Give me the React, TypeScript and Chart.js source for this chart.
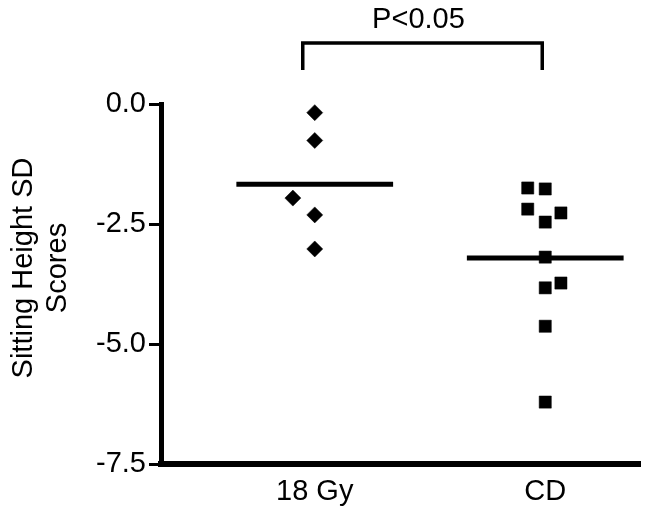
import React, { useEffect, useRef } from 'react';
import { Chart, registerables } from 'chart.js';

Chart.register(...registerables);

// ---- data ----
const categories = ['18 Gy', 'CD'];
const gyValues = [-0.18, -0.76, -1.96, -2.31, -3.02];
const gySpread = [0, 0, -0.095, 0, 0];
const cdValues = [-1.75, -1.77, -2.19, -2.27, -2.46, -3.19, -3.83, -3.73, -4.63, -6.21];
const cdSpread = [-0.076, 0, -0.076, 0.068, 0, 0, 0, 0.068, 0, 0];
const groupMeans = [-1.67, -3.21];
const yTickValues = [0, -2.5, -5, -7.5];
const yTitleLines = ['Sitting Height SD', 'Scores'];
const pLabel = 'P<0.05';
// significance bracket (x from group 1 to group 2, y above the plot)
const bracketX = [0.948, 1.987];
const bracketY = [0.71, 1.27];
const pLabelAt = { x: 1.45, y: 1.75 };

const FONT = '"Liberation Sans", Arial, Helvetica, sans-serif';
const FONT_SIZE = 29;
const MEAN_HALF_WIDTH = 0.34;

const textPlugin = {
  id: 'extraText',
  afterDraw(chart: any) {
    const { ctx, scales } = chart;
    const xs = scales.x;
    const ys = scales.y;
    ctx.save();
    ctx.fillStyle = '#000';
    ctx.font = `${FONT_SIZE}px ${FONT}`;
    ctx.textAlign = 'center';
    ctx.textBaseline = 'middle';
    ctx.fillText(pLabel, xs.getPixelForValue(pLabelAt.x), ys.getPixelForValue(pLabelAt.y));
    // rotated y-axis title
    const cy = chart.chartArea.top + 164;
    ctx.translate(24, cy);
    ctx.rotate(-Math.PI / 2);
    yTitleLines.forEach((line, i) => {
      ctx.fillText(line, 0, i * 34);
    });
    ctx.restore();
  },
};

export default function App() {
  const canvasRef = useRef<HTMLCanvasElement | null>(null);

  useEffect(() => {
    const canvas = canvasRef.current;
    if (!canvas) return;

    const gyPoints = gyValues.map((v, i) => ({ x: 1 + gySpread[i], y: v }));
    const cdPoints = cdValues.map((v, i) => ({ x: 2 + cdSpread[i], y: v }));
    const meanLine = (i: number) => [
      { x: i + 1 - MEAN_HALF_WIDTH, y: groupMeans[i] },
      { x: i + 1 + MEAN_HALF_WIDTH, y: groupMeans[i] },
    ];

    const chart = new Chart(canvas, {
      type: 'scatter',
      data: {
        datasets: [
          {
            label: categories[0],
            data: gyPoints,
            pointStyle: 'rectRot',
            pointRadius: 8,
            backgroundColor: '#000',
            borderColor: '#000',
            borderWidth: 0.5,
          },
          {
            label: categories[1],
            data: cdPoints,
            pointStyle: 'rect',
            pointRadius: 8.6,
            backgroundColor: '#000',
            borderColor: '#000',
            borderWidth: 0.5,
          },
          {
            type: 'line',
            label: 'mean 18 Gy',
            data: meanLine(0),
            borderColor: '#000',
            borderWidth: 5,
            pointRadius: 0,
            borderCapStyle: 'butt',
          } as any,
          {
            type: 'line',
            label: 'mean CD',
            data: meanLine(1),
            borderColor: '#000',
            borderWidth: 5,
            pointRadius: 0,
            borderCapStyle: 'butt',
          } as any,
          {
            type: 'line',
            label: 'bracket',
            data: [
              { x: bracketX[0], y: bracketY[0] },
              { x: bracketX[0], y: bracketY[1] },
              { x: bracketX[1], y: bracketY[1] },
              { x: bracketX[1], y: bracketY[0] },
            ],
            borderColor: '#000',
            borderWidth: 3.5,
            pointRadius: 0,
            borderCapStyle: 'butt',
            borderJoinStyle: 'miter',
            clip: false,
          } as any,
        ],
      },
      options: {
        responsive: false,
        animation: false,
        layout: { padding: { top: 104, right: 5, left: 0, bottom: 0 } },
        plugins: {
          legend: { display: false },
          tooltip: { enabled: false },
          title: { display: false },
        },
        scales: {
          x: {
            type: 'linear',
            min: 0.333,
            max: 2.415,
            grid: { display: false, drawTicks: false },
            border: { display: true, color: '#000', width: 6 },
            afterBuildTicks: (scale: any) => {
              scale.ticks = categories.map((_, i) => ({ value: i + 1 }));
            },
            afterFit: (scale: any) => {
              scale.height = 55;
            },
            ticks: {
              color: '#000',
              padding: 11,
              maxRotation: 0,
              autoSkip: false,
              font: { family: FONT, size: FONT_SIZE },
              callback: (v: any) => categories[Math.round(Number(v)) - 1] ?? '',
            },
          },
          y: {
            type: 'linear',
            min: -7.5,
            max: 0,
            grid: {
              display: true,
              drawOnChartArea: false,
              drawTicks: true,
              tickLength: 12,
              tickWidth: 3,
              tickColor: '#000',
            },
            border: { display: true, color: '#000', width: 5 },
            afterBuildTicks: (scale: any) => {
              scale.ticks = yTickValues.map((v) => ({ value: v }));
            },
            afterFit: (scale: any) => {
              scale.width = 161;
            },
            ticks: {
              color: '#000',
              padding: 3,
              font: { family: FONT, size: FONT_SIZE },
              callback: (v: any) => Number(v).toFixed(1),
            },
          },
        },
      },
      plugins: [textPlugin],
    } as any);

    return () => chart.destroy();
  }, []);

  return (
    <div style={{ position: 'fixed', left: 0, top: 0, width: 650, height: 519, background: '#fff' }}>
      <canvas ref={canvasRef} width={650} height={519} style={{ display: 'block' }} />
    </div>
  );
}
